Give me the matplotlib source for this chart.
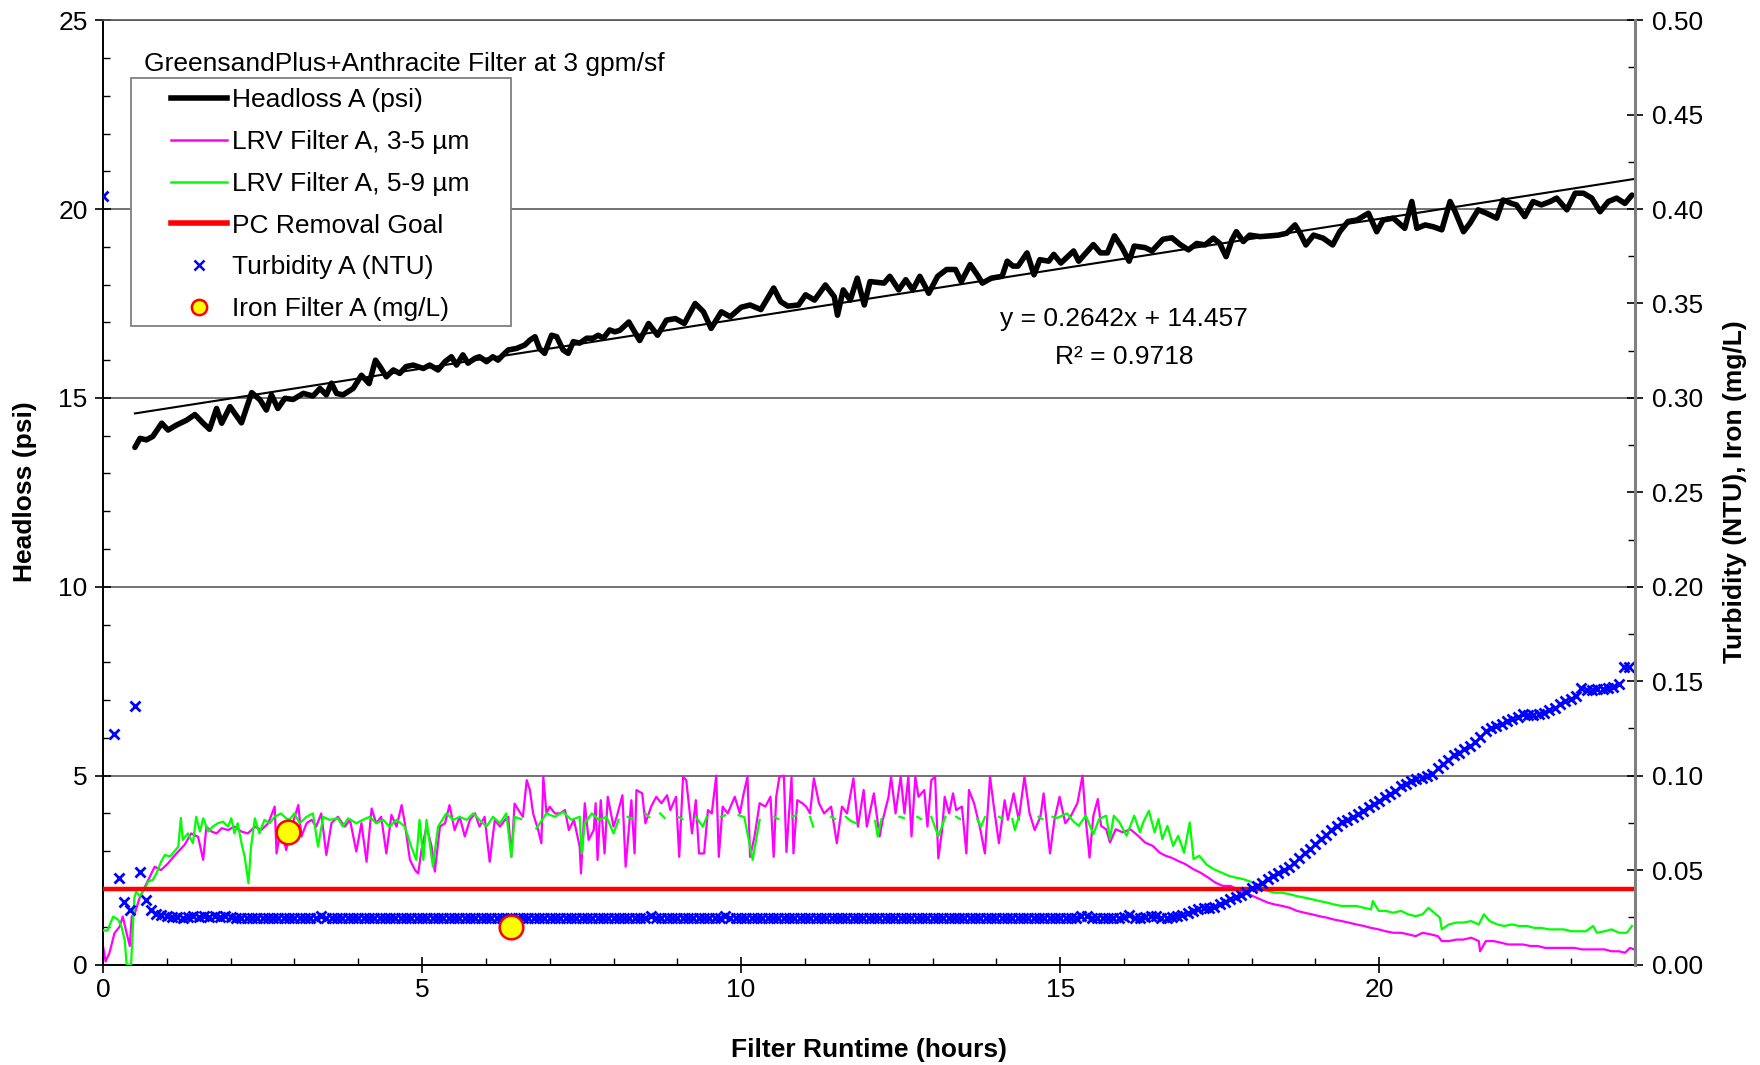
import numpy as np
import matplotlib
matplotlib.use("Agg")
import matplotlib.pyplot as plt
from matplotlib.lines import Line2D
from matplotlib.patches import Rectangle
from matplotlib.ticker import MultipleLocator, FormatStrFormatter

plt.rcParams['font.family'] = ['Liberation Sans', 'DejaVu Sans']

nan = np.nan

# ---- Headloss A (psi) vs filter runtime (hours)
hl_t = [0.50, 0.58, 0.68, 0.78, 0.92, 1.02, 1.15, 1.31, 1.44, 1.57, 1.67, 1.78, 1.86, 1.99, 2.17,
        2.33, 2.46, 2.56, 2.64, 2.74, 2.85, 2.98, 3.14, 3.29, 3.40, 3.50, 3.58, 3.66, 3.76, 3.92,
        4.05, 4.17, 4.27, 4.34, 4.44, 4.55, 4.65, 4.75, 4.86, 5.02, 5.12, 5.25, 5.36, 5.46, 5.54,
        5.64, 5.72, 5.83, 5.90, 6.01, 6.11, 6.19, 6.27, 6.35, 6.48, 6.61, 6.69, 6.77, 6.84, 6.92,
        7.03, 7.11, 7.21, 7.29, 7.37, 7.47, 7.58, 7.68, 7.76, 7.84, 7.94, 8.02,
        8.10, 8.24, 8.41, 8.55, 8.69, 8.83, 8.97, 9.11, 9.28, 9.41, 9.53, 9.69, 9.83, 10.00, 10.14,
        10.31, 10.51, 10.62, 10.73, 10.90, 11.01, 11.15, 11.32, 11.46, 11.51, 11.60, 11.71, 11.82,
        11.93, 12.02, 12.24, 12.33, 12.47, 12.58, 12.69, 12.80, 12.94, 13.08, 13.22, 13.36, 13.45,
        13.59, 13.70, 13.78, 13.92, 14.09, 14.17, 14.26, 14.34, 14.48, 14.59, 14.68, 14.82, 14.90,
        15.01, 15.21, 15.29, 15.52, 15.63, 15.74, 15.85, 15.97, 16.08, 16.16, 16.33, 16.44, 16.61,
        16.75, 16.88,
        17.01, 17.14, 17.27, 17.40, 17.50, 17.60, 17.69, 17.76, 17.87, 17.97, 18.13, 18.29, 18.42,
        18.55, 18.68, 18.76, 18.85, 18.97, 19.12, 19.27, 19.38, 19.51, 19.65, 19.83, 19.96, 20.06,
        20.22, 20.40, 20.51, 20.59, 20.72, 20.85, 20.98, 21.11, 21.19, 21.32, 21.42, 21.55, 21.68,
        21.84, 21.94, 22.07, 22.15, 22.28, 22.41, 22.54, 22.68, 22.78, 22.94, 23.07, 23.20, 23.33,
        23.46, 23.59, 23.72, 23.85, 23.96]
hl_psi = [13.69, 13.93, 13.89, 13.98, 14.33, 14.15, 14.28, 14.41, 14.56, 14.33, 14.17, 14.72, 14.33, 14.77, 14.34,
          15.14, 14.95, 14.68, 15.08, 14.72, 14.99, 14.96, 15.12, 15.05, 15.25, 15.08, 15.39, 15.12, 15.08, 15.25,
          15.60, 15.38, 16.00, 15.83, 15.56, 15.74, 15.65, 15.83, 15.87, 15.78, 15.87, 15.74, 15.96, 16.09, 15.87,
          16.14, 15.92, 16.05, 16.09, 15.96, 16.09, 16.00, 16.14, 16.27, 16.31, 16.40, 16.53, 16.62, 16.31, 16.18,
          16.66, 16.62, 16.27, 16.18, 16.49, 16.45, 16.58, 16.58, 16.66, 16.58, 16.80, 16.75,
          16.79, 17.01, 16.52, 16.97, 16.66, 17.06, 17.10, 16.97, 17.50, 17.28, 16.84, 17.28, 17.15, 17.40, 17.46,
          17.34, 17.91, 17.55, 17.43, 17.46, 17.73, 17.59, 17.99, 17.68, 17.19, 17.86, 17.59, 18.17,
          17.46, 18.08, 18.04, 18.22, 17.86, 18.13, 17.86, 18.22, 17.77, 18.22, 18.40, 18.40, 18.08,
          18.53, 18.26, 18.04, 18.17, 18.22, 18.62, 18.49, 18.49, 18.84, 18.26, 18.66, 18.62, 18.80,
          18.57, 18.89, 18.62, 19.06, 18.84, 18.84, 19.29, 18.98, 18.62, 19.02, 18.98, 18.89, 19.20,
          19.24, 19.06,
          18.92, 19.09, 19.05, 19.23, 19.09, 18.74, 19.18, 19.40, 19.14, 19.31, 19.27, 19.29, 19.31,
          19.36, 19.58, 19.36, 19.05, 19.31, 19.23, 19.05, 19.40, 19.67, 19.71, 19.89, 19.40, 19.71,
          19.76, 19.49, 20.20, 19.49, 19.58, 19.53, 19.45, 20.20, 19.93, 19.40, 19.62, 19.98, 19.89,
          19.76, 20.24, 20.15, 20.11, 19.80, 20.20, 20.11, 20.20, 20.29, 19.98, 20.42, 20.42, 20.29,
          19.93, 20.20, 20.29, 20.15, 20.37]

# linear trendline printed on the chart
trend_slope = 0.2642
trend_intercept = 14.457
trend_t = [0.5, 24.0]
trend_text = "y = 0.2642x + 14.457"
r2_text = "R² = 0.9718"

# ---- LRV Filter A, 3-5 um
lrv35_t = [0.00, 0.04, 0.10, 0.18, 0.26, 0.31, 0.37, 0.42, 0.45, 0.50, 0.58, 0.71, 0.81, 0.91, 1.02,
           1.15, 1.28, 1.38, 1.49, 1.57, 1.62, 1.70, 1.78, 1.86, 1.96, 2.06, 2.17, 2.27, 2.38, 2.48,
           2.59, 2.69, 2.72, 2.79, 2.87,
           2.92, 2.99, 3.06, 3.11, 3.19, 3.27, 3.34, 3.42, 3.50, 3.58, 3.68, 3.79, 3.87, 3.97, 4.05,
           4.13, 4.21, 4.28, 4.36, 4.44, 4.52, 4.60, 4.68, 4.73, 4.81, 4.89, 4.94, 4.99, 5.07, 5.15,
           5.20, 5.28, 5.36, 5.43, 5.51, 5.59, 5.67, 5.75, 5.83, 5.90, 5.98, 6.06, 6.14, 6.22, 6.30,
           6.35, 6.40, 6.45, 6.51, 6.58, 6.64, 6.69, 6.74, 6.82, 6.87, 6.90, 6.95, 7.00, 7.08,
           7.16, 7.24, 7.30, 7.38, 7.47, 7.49, 7.55, 7.61, 7.69, 7.72, 7.75, 7.80, 7.86, 7.91, 8.00,
           8.05, 8.14, 8.19, 8.28, 8.33, 8.36, 8.45, 8.50, 8.59, 8.67, 8.75, 8.84, 8.89, 8.98, 9.03,
           9.09, 9.14, 9.23, 9.29, 9.34, 9.42, 9.48, 9.54, 9.61, 9.65, 9.71, 9.79, 9.90, 9.98, 10.04,
           10.10, 10.14, 10.21, 10.29, 10.38, 10.46, 10.51, 10.55, 10.60, 10.67, 10.71, 10.79, 10.82,
           10.88, 10.96, 11.02, 11.08, 11.14, 11.22, 11.30, 11.41, 11.50, 11.58, 11.66, 11.76, 11.83,
           11.92, 11.97, 12.08, 12.17, 12.22, 12.31, 12.35, 12.42, 12.50, 12.56, 12.62, 12.67, 12.73,
           12.78, 12.87, 12.92, 12.98, 13.04, 13.09, 13.15, 13.19, 13.26, 13.32, 13.37, 13.46, 13.53,
           13.57, 13.65, 13.74, 13.82, 13.90, 13.96, 14.04, 14.13, 14.18, 14.27, 14.35, 14.44, 14.52,
           14.60, 14.69, 14.74, 14.84, 14.91, 14.99, 15.08, 15.16, 15.27,
           15.35, 15.40, 15.46, 15.52, 15.59, 15.64, 15.72, 15.78, 15.87, 15.98, 16.10, 16.22, 16.33,
           16.45, 16.56, 16.65, 16.74, 16.85, 16.97, 17.09, 17.20, 17.32, 17.43, 17.55, 17.67, 17.78,
           17.90, 18.02, 18.13, 18.25, 18.36, 18.48, 18.60, 18.71, 18.83, 18.94, 19.06, 19.18, 19.29,
           19.41, 19.52, 19.64, 19.76, 19.87, 19.99, 20.10, 20.22, 20.34, 20.45, 20.57, 20.68, 20.80,
           20.92, 20.98, 21.09, 21.21, 21.32, 21.44, 21.56, 21.58, 21.67, 21.79, 21.90, 22.02, 22.14,
           22.25, 22.37, 22.48, 22.60, 22.72, 22.83, 22.95, 23.06, 23.18, 23.29, 23.41, 23.53, 23.64,
           23.76, 23.85, 23.93, 23.99]
lrv35_v = [0.49, 0.08, 0.30, 0.83, 1.00, 1.27, 0.83, 0.49, 1.27, 1.36, 1.80, 2.24, 2.59, 2.50, 2.68,
           2.94, 3.17, 3.47, 3.38, 2.77, 3.65, 3.52, 3.47, 3.61, 3.56, 3.65, 3.52, 3.47, 3.65, 3.56,
           3.74, 4.18, 2.94, 3.65, 3.03,
           3.39, 3.83, 4.22, 3.39, 3.74, 3.83, 3.65, 4.00, 2.90, 3.74, 3.91, 3.65, 3.83, 2.99, 3.74,
           2.72, 4.13, 3.74, 3.91, 2.94, 3.96, 3.65, 4.22, 3.74, 2.77, 2.50, 2.41, 3.03, 3.65, 3.12,
           2.46, 3.65, 3.74, 4.22, 3.56, 3.91, 3.39, 3.83, 4.00, 3.65, 3.91, 2.72, 3.83, 3.65, 3.83,
           3.91, 2.85, 4.26, 4.09, 3.91, 4.88, 4.62, 4.00, 3.56, 3.21, 4.97, 4.00, 4.18, 4.00,
           4.00, 4.09, 3.56, 3.83, 3.12, 2.41, 4.27, 3.30, 3.56, 4.27, 2.77, 4.35, 2.94, 4.44, 3.65,
           3.91, 4.48, 2.59, 4.35, 2.94, 4.62, 4.53, 3.74, 4.18, 4.44, 4.27, 4.48, 4.09, 4.44, 2.85,
           4.97, 4.88, 3.47, 4.35, 2.94, 2.94, 4.09, 4.00, 5.00, 2.85, 4.18, 4.00, 4.44, 4.00, 4.53,
           4.97, 2.85, 3.39, 4.27, 4.18, 4.44, 2.85, 4.44, 4.97, 5.00, 2.98, 4.97, 2.94,
           4.35, 4.27, 4.18, 4.00, 4.93, 4.27, 4.00, 4.18, 3.21, 4.18, 4.00, 4.93, 3.65,
           4.62, 3.65, 4.53, 3.39, 3.83, 4.44, 4.97, 4.00, 4.97, 4.00, 4.97, 3.39, 4.97,
           4.44, 4.62, 3.65, 4.88, 4.97, 2.81, 3.56, 4.44, 4.00, 4.53, 4.09, 4.18, 2.94,
           4.62, 4.27, 3.65, 2.94, 4.97, 4.18, 3.21, 4.35, 3.83, 4.53, 3.83, 4.97, 4.00,
           3.56, 3.91, 4.53, 2.94, 3.83, 4.44, 3.74, 3.91, 4.27,
           5.00, 3.85, 2.83, 3.94, 4.38, 3.67, 3.58, 3.23, 3.58, 3.50, 3.58, 3.41, 3.23,
           3.14, 2.96, 2.88, 2.83, 2.74, 2.65, 2.52, 2.43, 2.30, 2.17, 2.08, 2.08, 1.99,
           1.90, 1.81, 1.73, 1.64, 1.59, 1.55, 1.50, 1.42, 1.37, 1.33, 1.28, 1.24, 1.19,
           1.15, 1.11, 1.06, 1.02, 0.97, 0.93, 0.88, 0.84, 0.84, 0.80, 0.75, 0.84, 0.80,
           0.75, 0.62, 0.62, 0.66, 0.66, 0.71, 0.62, 0.35, 0.62, 0.62, 0.58, 0.53, 0.53,
           0.53, 0.49, 0.49, 0.44, 0.44, 0.44, 0.44, 0.44, 0.40, 0.40, 0.40, 0.40, 0.35,
           0.35, 0.31, 0.44, 0.40]

# ---- LRV Filter A, 5-9 um (nan = gap in the logged record)
lrv59_t = [0.00, 0.07, 0.16, 0.24, 0.29, 0.34, 0.37, 0.44, 0.49, 0.52, 0.58, 0.66, 0.71, 0.78, 0.84,
           0.91, 0.97, 1.05, 1.12, 1.18, 1.22, 1.25, 1.33, 1.41, 1.46, 1.52, 1.57, 1.65, 1.72, 1.80,
           1.88, 1.96, 2.01, 2.06, 2.11, 2.17, 2.22, 2.28, 2.32, 2.38, 2.45, 2.53, 2.61, 2.69, 2.79, 2.87,
           2.92, 3.00, 3.08, 3.19, 3.29, 3.37, 3.45, 3.55, 3.68, 3.76, 3.84, 3.97, 4.07, 4.18, 4.28,
           4.39, 4.49, 4.60, 4.73, 4.83, 4.91, 4.96, 5.02, 5.07, 5.17, 5.25, 5.38, 5.49, 5.59, 5.70,
           5.80, 5.90, 6.01, 6.11, 6.22, 6.32, 6.40, 6.45, 6.55, 6.65, 6.79, 6.95, 7.08, 7.21, 7.34,
           7.47, 7.50,
           7.55, 7.66, 7.77, 7.89, 8.00, 8.08, 8.15, 8.22, 8.30, 8.40, 8.50, 8.56, 8.65, 8.73, 8.80,
           8.90, 9.01, 9.08, 9.18, 9.29, 9.40, 9.46, 9.55, 9.68, 9.75, 9.85, 9.96, 10.05, 10.18, 10.29,
           10.40, 10.52, 10.58, 10.70, 10.80, 10.86, 10.95, 11.08, 11.13, 11.25, 11.41, 11.47, 11.55,
           11.64, 11.72, 11.80, 11.95, 12.10, 12.14, 12.20, 12.35, 12.48, 12.55, 12.65, 12.76, 12.82,
           12.90, 12.98, 13.09, 13.20, 13.30, 13.37, 13.43, 13.55, 13.70, 13.76, 13.82, 13.95, 14.04,
           14.10, 14.18, 14.25, 14.29, 14.35, 14.50, 14.66, 14.72, 14.80, 14.88, 14.95, 15.11, 15.20,
           15.29, 15.40, 15.52, 15.61, 15.72, 15.78, 15.84, 15.93, 16.04, 16.16, 16.25, 16.30, 16.39,
           16.48, 16.54, 16.60, 16.68, 16.77, 16.85, 16.94, 17.03, 17.09, 17.18, 17.29, 17.41, 17.53,
           17.64, 17.75, 17.87, 18.02, 18.13, 18.25, 18.36, 18.48, 18.60, 18.71, 18.83, 18.94, 19.06,
           19.18, 19.29, 19.41, 19.52, 19.64, 19.76, 19.87, 19.90, 19.99, 20.10, 20.22, 20.34, 20.45,
           20.57, 20.68, 20.77, 20.86, 20.95, 20.98, 21.09, 21.21, 21.32, 21.44, 21.56, 21.64, 21.73,
           21.85, 21.96, 22.08, 22.19, 22.31, 22.43, 22.54, 22.66, 22.77, 22.89, 23.01, 23.12, 23.24,
           23.35, 23.41, 23.53, 23.64, 23.76, 23.88, 23.96]
lrv59_v = [0.90, 0.90, 1.27, 1.18, 1.00, 0.65, 0.00, 0.00, 1.75, 1.93, 1.80, 2.02, 2.20, 2.24, 2.42,
           2.72, 2.90, 2.86, 3.00, 3.12, 3.88, 3.30, 3.47, 3.21, 3.91, 3.52, 3.87, 3.52, 3.65, 3.74,
           3.78, 3.65, 3.87, 3.47, 3.74, 3.21, 2.86, 2.15, 3.12, 3.87, 3.47, 3.83, 3.74, 3.91, 4.00, 3.87,
           3.83, 4.00, 3.74, 3.91, 4.00, 3.12, 3.91, 3.83, 3.87, 3.65, 3.87, 3.74, 3.83, 3.91, 3.74,
           3.83, 3.65, 3.83, 3.65, 3.12, 2.77, 3.83, 2.77, 3.83, 2.59, 3.65, 4.00, 3.83, 3.91, 3.83,
           4.00, 3.83, 3.65, 3.91, 3.74, 4.00, 2.85, 3.91, 3.85, nan, 3.60, 4.00, 3.91, 4.04, 3.83,
           3.91, 2.94,
           3.74, 4.00, 3.83, 3.91, 3.47, 3.83, nan, 3.91, 3.85, nan, 4.00, 3.90, nan, 4.00, 3.88,
           nan, 3.91, 3.85, nan, 3.91, 3.65, 3.90, nan, 3.91, 3.95, nan, 3.95, 3.90, 2.77, 3.83,
           nan, 3.91, 3.85, nan, 3.91, 3.95, nan, 3.91, 3.65, nan, 3.91, 3.85, nan,
           3.91, 3.80, 3.74, nan, 3.80, 3.39, 3.85, nan, 3.91, 3.88, nan, 3.91, 3.85,
           nan, 3.91, 3.39, 3.91, nan, 3.91, 3.85, nan, 3.85, 3.65, 3.90, nan, 3.91,
           3.85, nan, 3.85, 3.56, 3.90, nan, 3.91, 3.85, nan, 3.91, 3.88, 4.00, 3.80,
           3.67, 3.94, 3.45, 3.85, 3.94, 3.32, 3.94, 3.76, 3.41, 3.94, 3.50, 3.76, 4.07,
           3.50, 3.85, 3.32, 3.67, 3.14, 3.41, 2.96, 3.76, 2.79, 2.88, 2.65, 2.52, 2.43,
           2.35, 2.30, 2.26, 2.17, 2.08, 1.95, 1.90, 1.90, 1.86, 1.81, 1.77, 1.73, 1.68,
           1.64, 1.59, 1.55, 1.55, 1.55, 1.50, 1.46, 1.68, 1.42, 1.42, 1.37, 1.42, 1.33,
           1.28, 1.33, 1.50, 1.37, 1.24, 0.93, 1.06, 1.11, 1.11, 1.15, 1.06, 1.33, 1.15,
           1.06, 1.02, 1.06, 1.02, 1.02, 0.97, 0.97, 0.93, 0.93, 0.93, 0.88, 0.88, 0.88,
           1.02, 0.84, 0.88, 0.93, 0.84, 0.84, 1.02]

pc_goal = 2.0  # LRV

# ---- Turbidity A (NTU), one reading every 5 min; one row per hour
turb_step_h = 5 / 60
turb_rows = [
    [0.407, nan, 0.122, 0.046, 0.033, 0.029, 0.137, 0.049, 0.034, 0.029, 0.027, 0.026],        # 0 h
    [0.0255, 0.0250, 0.0250, 0.0245, 0.0250, 0.0255, 0.0250, 0.0255, 0.0250, 0.0255, 0.0250, 0.0255],
    [0.0250, 0.0245, 0.0245, 0.0245, 0.0245, 0.0245, 0.0245, 0.0245, 0.0245, 0.0245, 0.0245, 0.0245],
    [0.0245, 0.0245, 0.0245, 0.0245, 0.0245, 0.0255, 0.0245, 0.0245, 0.0245, 0.0245, 0.0245, 0.0245],
    [0.0245, 0.0245, 0.0245, 0.0245, 0.0245, 0.0245, 0.0245, 0.0245, 0.0245, 0.0245, 0.0245, 0.0245],
    [0.0245, 0.0245, 0.0245, 0.0245, 0.0245, 0.0245, 0.0245, 0.0245, 0.0245, 0.0245, 0.0245, 0.0245],
    [0.0245, 0.0245, 0.0245, 0.0245, 0.0245, 0.0245, 0.0245, 0.0245, 0.0245, 0.0245, 0.0245, 0.0245],
    [0.0245, 0.0245, 0.0245, 0.0245, 0.0245, 0.0245, 0.0245, 0.0245, 0.0245, 0.0245, 0.0245, 0.0245],
    [0.0245, 0.0245, 0.0245, 0.0245, 0.0245, 0.0245, 0.0245, 0.0255, 0.0245, 0.0245, 0.0245, 0.0245],
    [0.0245, 0.0245, 0.0245, 0.0245, 0.0245, 0.0245, 0.0245, 0.0245, 0.0245, 0.0255, 0.0245, 0.0245],
    [0.0245, 0.0245, 0.0245, 0.0245, 0.0245, 0.0245, 0.0245, 0.0245, 0.0245, 0.0245, 0.0245, 0.0245],
    [0.0245, 0.0245, 0.0245, 0.0245, 0.0245, 0.0245, 0.0245, 0.0245, 0.0245, 0.0245, 0.0245, 0.0245],
    [0.0245, 0.0245, 0.0245, 0.0245, 0.0245, 0.0245, 0.0245, 0.0245, 0.0245, 0.0245, 0.0245, 0.0245],
    [0.0245, 0.0245, 0.0245, 0.0245, 0.0245, 0.0245, 0.0245, 0.0245, 0.0245, 0.0245, 0.0245, 0.0245],
    [0.0245, 0.0245, 0.0245, 0.0245, 0.0245, 0.0245, 0.0245, 0.0245, 0.0245, 0.0245, 0.0245, 0.0245],
    [0.0245, 0.0245, 0.0245, 0.0245, 0.0255, 0.0255, 0.0245, 0.0245, 0.0245, 0.0245, 0.0245, 0.0245],
    [0.0250, 0.0260, 0.0245, 0.0245, 0.0250, 0.0255, 0.0255, 0.0245, 0.0245, 0.0250, 0.0255, 0.0260],
    [0.0274, 0.0283, 0.0292, 0.0297, 0.0301, 0.0306, 0.0318, 0.0330, 0.0345, 0.0358, 0.0370, 0.0384],
    [0.0403, 0.0414, 0.0432, 0.0451, 0.0470, 0.0486, 0.0500, 0.0518, 0.0540, 0.0565, 0.0593, 0.0612],
    [0.0636, 0.0662, 0.0687, 0.0713, 0.0735, 0.0753, 0.0765, 0.0782, 0.0797, 0.0812, 0.0832, 0.0850],
    [0.0868, 0.0888, 0.0903, 0.0920, 0.0945, 0.0958, 0.0970, 0.0982, 0.0990, 0.0996, 0.1010, 0.1040],
    [0.1062, 0.1085, 0.1108, 0.1122, 0.1140, 0.1158, 0.1177, 0.1205, 0.1239, 0.1250, 0.1262, 0.1276],
    [0.1290, 0.1300, 0.1312, 0.1327, 0.1320, 0.1322, 0.1328, 0.1334, 0.1345, 0.1360, 0.1381, 0.1395],
    [0.1408, 0.1420, 0.1465, 0.1452, 0.1455, 0.1460, 0.1460, 0.1465, 0.1470, 0.1485, 0.1575, 0.1575],
]

# ---- Iron Filter A (mg/L)
iron_t = [2.9, 6.4]
iron_v = [0.07, 0.02]

turb_v = np.array(turb_rows, dtype=float).ravel()
turb_t = np.arange(turb_v.size) * turb_step_h

W, H = 1760, 1065
fig = plt.figure(figsize=(W / 100, H / 100), dpi=100)
ax = fig.add_axes([103 / W, 1 - 964.5 / H, (1634.5 - 103) / W, (964.5 - 20.2) / H])
ax2 = ax.twinx()

FS = 19

# left axis series
ax.yaxis.grid(True, which='major', color='#4d4d4d', lw=1.1, zorder=0)
ax.set_axisbelow(True)
ax.plot(lrv35_t, lrv35_v, color='#ff00ff', lw=1.6, zorder=2)
ax.plot(lrv59_t, lrv59_v, color='#00ff00', lw=1.6, zorder=3)
ax.axhline(pc_goal, color='red', lw=3.2, zorder=4)
trend_y = [trend_slope * t + trend_intercept for t in trend_t]
ax.plot(trend_t, trend_y, color='black', lw=1.5, zorder=5)
ax.plot(hl_t, hl_psi, color='black', lw=4.0, solid_joinstyle='round', solid_capstyle='round', zorder=6)

ax.set_xlim(0, 24)
ax.set_ylim(0, 25)
ax.xaxis.set_major_locator(MultipleLocator(5))
ax.xaxis.set_minor_locator(MultipleLocator(1))
ax.yaxis.set_major_locator(MultipleLocator(5))
ax.yaxis.set_minor_locator(MultipleLocator(1))
ax.tick_params(which='major', direction='inout', length=11, width=1.2, labelsize=FS)
ax.tick_params(which='minor', direction='in', length=5, width=1.0)
ax.tick_params(axis='y', which='major', pad=5.5)
ax.tick_params(axis='x', which='major', pad=4)
ax.tick_params(right=False, which='both')

for s in ['left', 'bottom']:
    ax.spines[s].set_color('black')
    ax.spines[s].set_linewidth(1.4)
ax.spines['top'].set_color('#555555')
ax.spines['top'].set_linewidth(1.2)
ax.spines['right'].set_visible(False)

# right axis series
ax2.plot(turb_t, turb_v, linestyle='none', marker='x', color='#0000ff', ms=7.5, mew=2.0, zorder=2)
ax2.plot(iron_t, iron_v, linestyle='none', marker='o', ms=17, mfc='yellow', mec='red', mew=1.8, zorder=3)
ax2.set_ylim(0, 0.5)
ax2.yaxis.set_major_locator(MultipleLocator(0.05))
ax2.yaxis.set_minor_locator(MultipleLocator(0.025))
ax2.yaxis.set_major_formatter(FormatStrFormatter('%.2f'))
ax2.tick_params(which='major', direction='inout', length=11, width=1.2, labelsize=FS, pad=7)
ax2.tick_params(which='minor', direction='in', length=5, width=1.0)
for s in ['left', 'top', 'bottom']:
    ax2.spines[s].set_visible(False)
ax2.spines['right'].set_color('#808080')
ax2.spines['right'].set_linewidth(2.2)

# texts
fig.text(868.75 / W, 1 - 1049.5 / H, 'Filter Runtime (hours)', ha='center', va='center',
         fontsize=FS, fontweight='bold')
fig.text(24.7 / W, 1 - 492 / H, 'Headloss (psi)', rotation=90, ha='center', va='center',
         fontsize=FS, fontweight='bold')
fig.text(1735 / W, 1 - 492 / H, 'Turbidity (NTU), Iron (mg/L)', rotation=90, ha='center',
         va='center', fontsize=FS, fontweight='bold')
fig.text(143.7 / W, 1 - 64 / H, 'GreensandPlus+Anthracite Filter at 3 gpm/sf', ha='left',
         va='center', fontsize=FS)
ax.text(16.0, 17.1, trend_text, ha='center', va='center', fontsize=FS)
ax.text(16.0, 16.08, r2_text, ha='center', va='center', fontsize=FS)

# legend with a plain grey box
fig.add_artist(Rectangle((131 / W, 1 - 325.5 / H), 380 / W, 248 / H, transform=fig.transFigure,
                         facecolor='white', edgecolor='#808080', lw=1.3, zorder=4))
handles = [
    Line2D([], [], color='black', lw=4),
    Line2D([], [], color='#ff00ff', lw=1.8),
    Line2D([], [], color='#00ff00', lw=1.8),
    Line2D([], [], color='red', lw=4),
    Line2D([], [], linestyle='none', marker='x', color='#0000ff', ms=7, mew=1.8),
    Line2D([], [], linestyle='none', marker='o', ms=11, mfc='yellow', mec='red', mew=1.8),
]
labels = ['Headloss A (psi)', 'LRV Filter A, 3-5 µm', 'LRV Filter A, 5-9 µm',
          'PC Removal Goal', 'Turbidity A (NTU)', 'Iron Filter A (mg/L)']
leg = fig.legend(handles, labels, loc='upper left', bbox_to_anchor=(171 / W, 1 - 88.5 / H),
                 frameon=False, borderpad=0, borderaxespad=0, handlelength=2.12,
                 handletextpad=0.2, labelspacing=0.67, fontsize=FS)
leg.set_zorder(5)

fig.savefig('out.png', dpi=100)
